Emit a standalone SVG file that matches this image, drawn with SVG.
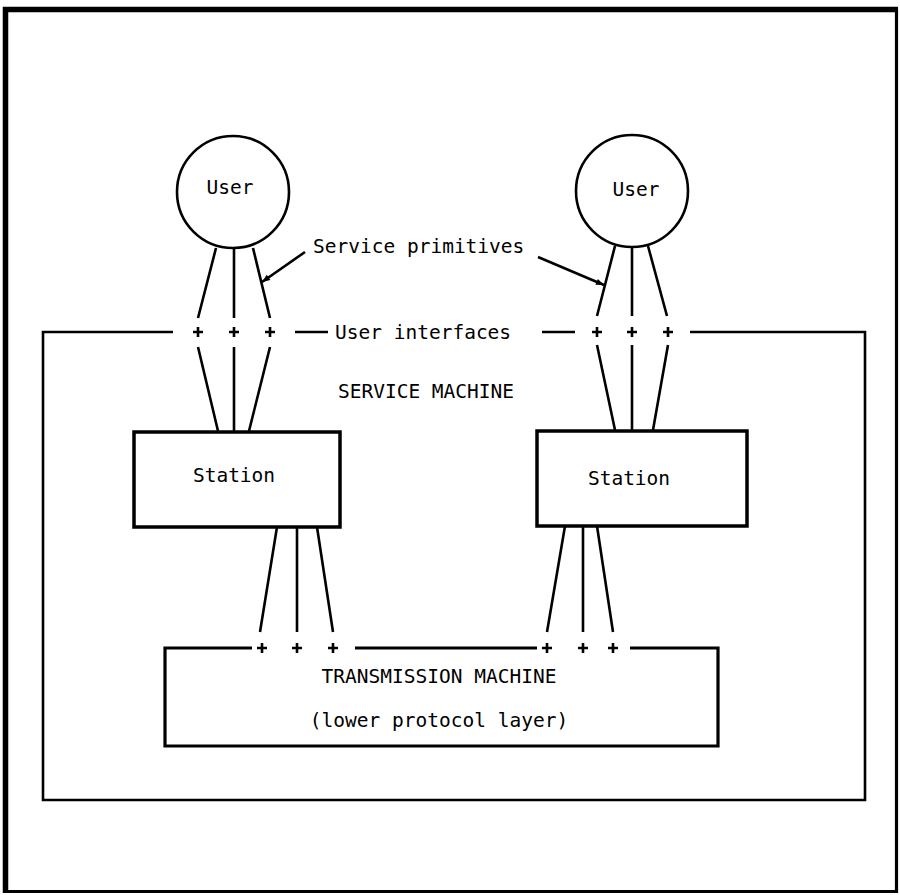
<svg xmlns="http://www.w3.org/2000/svg" width="900" height="895" viewBox="0 0 900 895">
<style>
  text { font-family: "DejaVu Sans Mono", "Liberation Mono", monospace; font-size: 19.5px; fill: #000; }
  .c { text-anchor: middle; }
  .ln { stroke: #000; stroke-width: 2.6; fill: none; stroke-linecap: butt; }
  .frame { stroke: #000; fill: none; }
  .plus { stroke: #000; stroke-width: 2.6; fill: none; }
</style>
<defs>
  <marker id="ah" viewBox="0 0 10 10" refX="10" refY="5" markerWidth="12" markerHeight="8" markerUnits="userSpaceOnUse" orient="auto">
    <path d="M0,1 L10,5 L0,9 Z" fill="#000"/>
  </marker>
  <path id="pl" d="M-5,0 H5 M0,-5 V5"/>
</defs>
<rect width="900" height="895" fill="#fff"/>

<!-- outer frame -->
<g id="outer-frame">
  <path class="frame" stroke-width="3.2" d="M896.5,9 V891.5 H6"/>
  <path class="frame" stroke-width="5.5" d="M5.5,893 V9.5 H898"/>
</g>

<!-- service machine boundary with interfaces -->
<g id="service-machine">
  <path class="frame" stroke-width="2.6" d="M173,332 H43 V800 H865 V332 H690"/>
  <path class="frame" stroke-width="2.6" d="M295,332 H328 M542,332 H575"/>
  <text x="426" y="398" class="c">SERVICE MACHINE</text>
  <text x="335" y="339">User interfaces</text>
</g>

<g id="user-left">
  <circle cx="233" cy="192" r="56" fill="none" stroke="#000" stroke-width="2.6"/>
  <text x="230" y="194" class="c">User</text>
</g>
<g id="user-right">
  <circle cx="632" cy="191" r="56" fill="none" stroke="#000" stroke-width="2.6"/>
  <text x="636" y="196" class="c">User</text>
</g>

<g id="station-left">
  <rect x="134" y="432" width="206" height="95" fill="none" stroke="#000" stroke-width="3.5"/>
  <text x="234" y="482" class="c">Station</text>
</g>
<g id="station-right">
  <rect x="537" y="431" width="210" height="95" fill="none" stroke="#000" stroke-width="3.5"/>
  <text x="629" y="485" class="c">Station</text>
</g>

<g id="transmission-machine">
  <path class="frame" stroke-width="3.2" d="M252,648 H165 V746 H718 V648 H630 M537,648 H355"/>
  <text x="439" y="683" class="c">TRANSMISSION MACHINE</text>
  <text x="439" y="727" class="c">(lower protocol layer)</text>
</g>

<g id="labels">
  <text x="313" y="253">Service primitives</text>
</g>

<g id="connectors">
  <!-- left user to interface -->
  <path class="ln" d="M216,248 L198,318 M234,248 V318 M253,248 L270,318"/>
  <!-- left interface to station -->
  <path class="ln" d="M198,347 L218,431 M234,347 V431 M270,347 L249,431"/>
  <!-- right user to interface -->
  <path class="ln" d="M615,246 L597,316 M632,247 V316 M648,246 L667,316"/>
  <!-- right interface to station -->
  <path class="ln" d="M597,345 L615,430 M632,345 V430 M668,345 L653,430"/>
  <!-- left station to transmission -->
  <path class="ln" d="M277,527 L260,632 M297,527 V632 M317,527 L333,632"/>
  <!-- right station to transmission -->
  <path class="ln" d="M565,526 L547,632 M583,526 V632 M597,526 L613,632"/>
  <!-- service primitives pointers -->
  <path class="ln" stroke-width="2.2" d="M305,252 L262,282" marker-end="url(#ah)"/>
  <path class="ln" stroke-width="2.2" d="M538,257 L604,285" marker-end="url(#ah)"/>
  <!-- interface plus marks -->
  <g class="plus">
    <use href="#pl" x="198" y="332"/>
    <use href="#pl" x="234" y="332"/>
    <use href="#pl" x="270" y="332"/>
    <use href="#pl" x="597" y="332"/>
    <use href="#pl" x="632" y="332"/>
    <use href="#pl" x="668" y="332"/>
    <use href="#pl" x="262" y="648"/>
    <use href="#pl" x="297" y="648"/>
    <use href="#pl" x="333" y="648"/>
    <use href="#pl" x="547" y="648"/>
    <use href="#pl" x="583" y="648"/>
    <use href="#pl" x="613" y="648"/>
  </g>
</g>
</svg>
